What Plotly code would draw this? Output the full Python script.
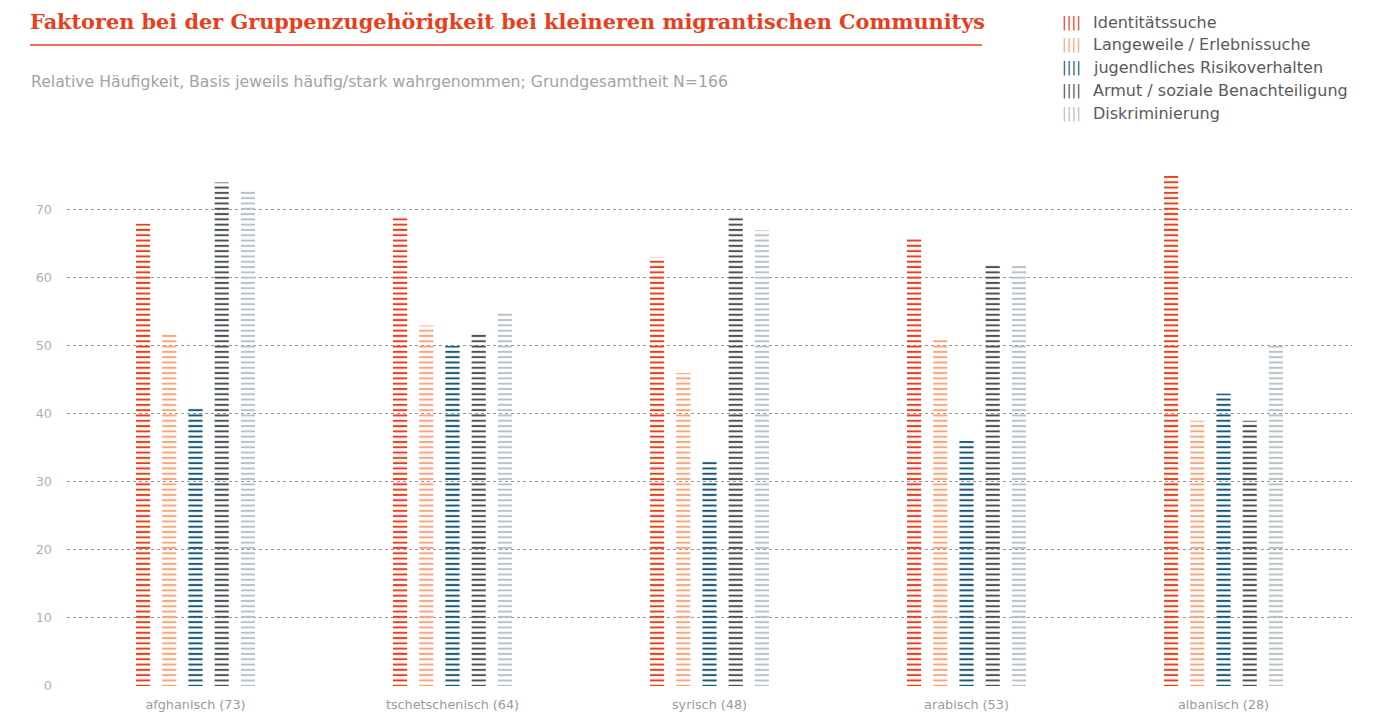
import plotly.graph_objects as go

categories = ["afghanisch (73)", "tschetschenisch (64)", "syrisch (48)", "arabisch (53)", "albanisch (28)"]
series_names = ["Identitätssuche", "Langeweile / Erlebnissuche", "jugendliches Risikoverhalten",
                "Armut / soziale Benachteiligung", "Diskriminierung"]
identitaet = [68, 69, 63, 66, 75]
langeweile = [52, 53, 46, 51, 39]
risiko = [41, 50, 33, 36, 43]
armut = [74, 52, 69, 62, 39]
diskriminierung = [73, 55, 67, 62, 50]
series_values = [identitaet, langeweile, risiko, armut, diskriminierung]
colors = ["#E8401C", "#F8A57C", "#1B5878", "#4B535A", "#B9C0C7"]
y_ticks = [0, 10, 20, 30, 40, 50, 60, 70]

# page draws the figure with an 8px body margin, so work in screen pixels minus that offset
OFF = 8
W, H = 1377, 721
L = 67 - OFF
R = W - (1352 - OFF)
T = 169 - OFF
B = H - (686 - OFF)
pw, ph = W - L - R, H - T - B


def px(x):
    return (x - OFF - L) / pw


def py(y):
    return (H - B - (y - OFF)) / ph


fig = go.Figure()
for name, vals, col in zip(series_names, series_values, colors):
    fig.add_trace(go.Bar(
        x=categories, y=vals, name=name,
        marker=dict(color=col, line=dict(width=0),
                    pattern=dict(shape="-", size=5.3, solidity=0.38, fillmode="replace",
                                 fgcolor=col, bgcolor="rgba(0,0,0,0)")),
        showlegend=False,
    ))

annotations = [
    dict(text="Relative Häufigkeit, Basis jeweils häufig/stark wahrgenommen; Grundgesamtheit N=166",
         xref="paper", yref="paper", x=px(29), y=py(82), xanchor="left", yanchor="middle",
         showarrow=False, font=dict(family="DejaVu Sans", size=15.7, color="#a3a3a3")),
]
for i, (name, col) in enumerate(zip(series_names, colors)):
    yy = 22 + 23 * i
    annotations.append(dict(text="||||", xref="paper", yref="paper", x=px(1060), y=py(yy),
                            xanchor="left", yanchor="middle", showarrow=False,
                            font=dict(family="DejaVu Sans", size=14, color=col)))
    annotations.append(dict(text=name, xref="paper", yref="paper", x=px(1091), y=py(yy),
                            xanchor="left", yanchor="middle", showarrow=False,
                            font=dict(family="DejaVu Sans", size=16, color="#5a5a5a")))

fig.update_layout(
    width=W, height=H,
    margin=dict(l=L, r=R, t=T, b=B),
    paper_bgcolor="white", plot_bgcolor="white",
    barmode="group", bargap=0.49, bargroupgap=0.46,
    title=dict(text="Faktoren bei der Gruppenzugehörigkeit bei kleineren migrantischen Communitys",
               x=(30 - OFF) / W, xref="container", xanchor="left",
               y=1 - (22 - OFF) / H, yref="container", yanchor="middle",
               font=dict(family="DejaVu Serif", size=20.8, color="#E8401C", weight="bold")),
    xaxis=dict(showgrid=False, showline=False, ticks="", ticklabelstandoff=9,
               tickfont=dict(family="DejaVu Sans", size=12.8, color="#9a9a9a")),
    yaxis=dict(range=[0, 76], tickvals=y_ticks, showgrid=True, gridcolor="#999999", griddash="dot",
               gridwidth=1, zeroline=False, showline=False, ticks="", ticklabelstandoff=14,
               tickfont=dict(family="DejaVu Sans", size=12.8, color="#b0b0b0")),
    annotations=annotations,
    shapes=[dict(type="line", xref="paper", yref="paper", x0=px(30), x1=px(982), y0=py(45), y1=py(45),
                 line=dict(color="#E8401C", width=1.5))],
)

fig.write_html("out.html")
